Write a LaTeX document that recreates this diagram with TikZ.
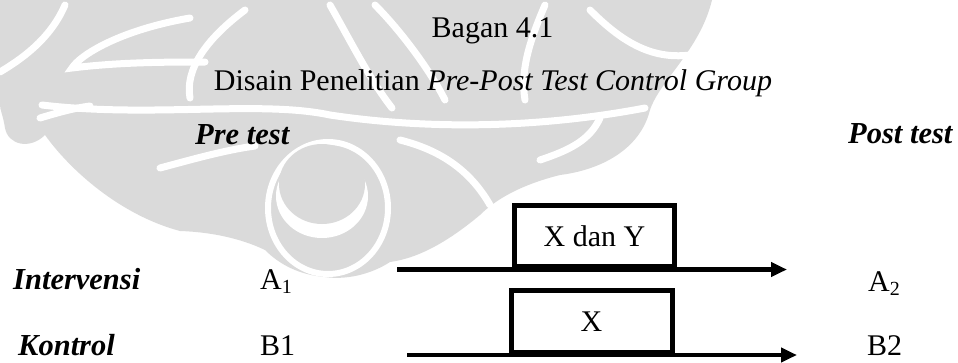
\documentclass[tikz,border=0pt]{standalone}
\usepackage{fontspec}
\setmainfont{Liberation Serif}
\usetikzlibrary{arrows.meta}
\definecolor{wm}{RGB}{218,218,218}
\begin{document}
\begin{tikzpicture}[x=1pt,y=-1pt,
  txt/.style={inner sep=0pt,font=\fontsize{30}{36}\selectfont},
  bi/.style={inner sep=0pt,font=\fontsize{30.5}{36}\selectfont\bfseries\itshape},
  lowrow/.style={text depth=0pt},
  treat/.style={draw,line width=5pt,inner sep=0pt,font=\fontsize{30}{36}\selectfont},
  flow/.style={line width=4.5pt,-{Triangle[length=16pt,width=14pt]}},
  gap/.style={white,line width=7pt,line cap=round}]
\useasboundingbox (0,0) rectangle (958,362);
% ---- watermark (faint ornament) ----
\fill[wm] (0,0) -- (712,0) .. controls (700,50) and (660,80) .. (650,110)
  .. controls (640,150) and (600,170) .. (560,175)
  .. controls (520,185) and (495,200) .. (480,215)
  .. controls (450,240) and (420,258) .. (390,262)
  .. controls (370,275) and (345,280) .. (325,277)
  .. controls (300,275) and (280,265) .. (265,250)
  .. controls (240,238) and (210,232) .. (180,231)
  .. controls (120,215) and (70,170) .. (45,135)
  .. controls (30,150) and (8,145) .. (5,128)
  .. controls (3,115) and (0,110) .. (0,105) -- cycle;
% white gaps
\draw[gap] (42,105) .. controls (150,118) and (260,100) .. (330,115)
  .. controls (430,130) and (540,128) .. (645,108);
\draw[gap] (65,5) .. controls (50,40) and (20,60) .. (0,72);
\draw[gap] (190,18) .. controls (120,30) and (80,55) .. (72,68)
  .. controls (120,62) and (170,62) .. (205,62);
\draw[gap] (245,10) .. controls (205,40) and (185,70) .. (190,98);
\draw[gap] (160,168) .. controls (190,160) and (225,150) .. (255,146);
\draw[gap] (40,118) .. controls (60,112) and (75,108) .. (90,106);
\draw[gap] (330,5) .. controls (350,40) and (370,80) .. (392,108);
\draw[gap] (375,5) .. controls (400,30) and (430,70) .. (445,100);
\draw[gap] (545,5) .. controls (530,40) and (520,70) .. (525,100);
\draw[gap] (590,10) .. controls (620,40) and (650,60) .. (690,55);
\draw[gap] (600,118) .. controls (590,140) and (570,150) .. (540,160);
\draw[gap] (400,140) .. controls (440,150) and (470,170) .. (490,205);
% central egg
\draw[white,line width=6pt,fill=wm] (328,208) ellipse [x radius=60pt, y radius=66pt];
\fill[white] (322,196) ellipse [x radius=46pt, y radius=42pt];
\fill[wm] (322,184) ellipse [x radius=43pt, y radius=40pt];
% ---- titles ----
\node[txt,anchor=base] (title) at (492.5,37) {Bagan 4.1};
\node[txt,anchor=base] (subtitle) at (493,90) {Disain Penelitian \textit{Pre-Post Test Control Group}};
\node[bi,anchor=base west] (pre) at (195,144) {Pre test};
\node[bi,anchor=base west] (post) at (848,143) {Post test};
% ---- rows ----
\node[bi,anchor=base west] (interv) at (13,289) {Intervensi};
\node[bi,lowrow,anchor=base west] (kontrol) at (18,355) {Kontrol};
\node[txt,anchor=base west] (a1) at (260,289) {A\raisebox{-4pt}{\fontsize{20}{20}\selectfont 1}};
\node[txt,lowrow,anchor=base west] (b1) at (260,355) {B1};
\node[txt,anchor=base west] (a2) at (868,291) {A\raisebox{-4pt}{\fontsize{20}{20}\selectfont 2}};
\node[txt,lowrow,anchor=base west] (b2) at (867,355) {B2};
% ---- treatment boxes and arrows ----
\coordinate (s1) at (397,269.5);
\coordinate (e1) at (787,269.5);
\coordinate (s2) at (407,355);
\coordinate (e2) at (797,355);
\node[treat,minimum width=160pt,minimum height=60.5pt] (xy) at (594.5,235.75) {X dan Y};
\node[treat,minimum width=161pt,minimum height=62pt] (x) at (591.5,321.5) {X};
\draw[flow] (s1) -- (e1);
\draw[flow] (s2) -- (e2);
\end{tikzpicture}
\end{document}
